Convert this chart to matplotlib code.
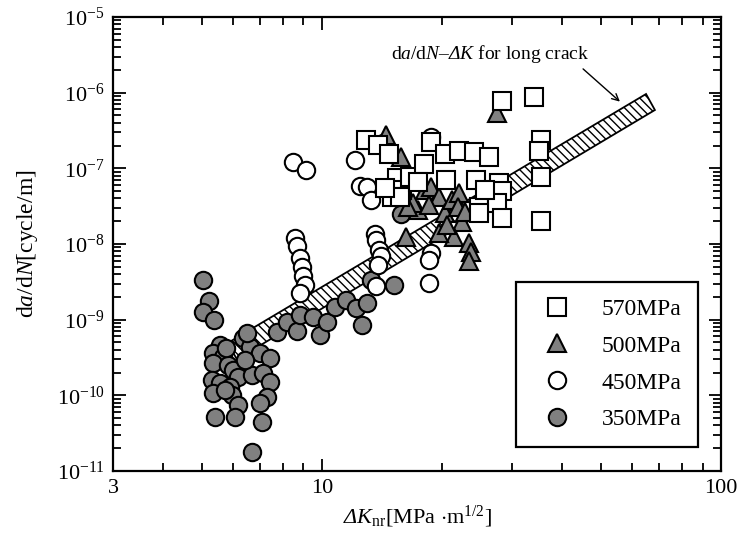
import numpy as np
import matplotlib
matplotlib.use('Agg')
import matplotlib.pyplot as plt
from matplotlib.ticker import FixedLocator, NullFormatter, FuncFormatter
from matplotlib.lines import Line2D

plt.rcParams['font.family'] = 'Liberation Serif'
plt.rcParams['mathtext.fontset'] = 'custom'
plt.rcParams['mathtext.rm'] = 'Liberation Serif'
plt.rcParams['mathtext.it'] = 'Liberation Serif:italic'
plt.rcParams['mathtext.bf'] = 'Liberation Serif:bold'
# italic greek capital (mathit forces it upright)
plt.rcParams['mathtext.sf'] = 'Liberation Serif:italic'
plt.rcParams['hatch.linewidth'] = 1.0

# 570MPa
dk_570 = [28.3, 34.1, 35.5, 35.1, 35.5, 35.5, 12.9, 13.8, 14.7, 15.4, 15.9, 15.0, 16.6, 18.0,
          18.8, 20.3, 22.1, 24.1, 26.3, 20.5, 24.4, 27.8, 28.2, 24.8, 27.4, 28.2, 24.8, 15.7,
          25.7, 17.4, 14.4]
rate_570 = [7.8e-7, 8.8e-7, 2.37e-7, 1.7e-7, 7.7e-8, 2.0e-8, 2.37e-7, 2.03e-7, 1.55e-7, 7.45e-8,
            5.2e-8, 4.2e-8, 7.7e-8, 1.14e-7, 2.23e-7, 1.55e-7, 1.7e-7, 1.64e-7, 1.41e-7, 7.0e-8,
            7.0e-8, 6.4e-8, 5.0e-8, 3.1e-8, 3.5e-8, 2.2e-8, 2.6e-8, 4.2e-8, 5.2e-8, 6.6e-8, 5.5e-8]

# 500MPa
dk_500 = [27.4, 14.5, 15.8, 18.1, 18.8, 19.7, 17.4, 16.3, 20.3, 21.2, 22.1, 22.5, 21.5, 23.4,
          23.7, 23.4, 19.7, 21.9, 22.8, 16.9, 20.6, 18.6, 16.4]
rate_500 = [5.4e-7, 2.76e-7, 1.41e-7, 5.2e-8, 5.7e-8, 4.2e-8, 2.8e-8, 1.24e-8, 2.6e-8, 3.8e-8,
            4.7e-8, 1.95e-8, 1.24e-8, 1.03e-8, 7.8e-9, 6.0e-9, 1.4e-8, 3.1e-8, 2.65e-8, 3.5e-8,
            1.78e-8, 3.3e-8, 3.1e-8]

# 450MPa
dk_450 = [8.45, 9.11, 12.1, 12.5, 12.95, 13.3, 8.55, 8.65, 8.80, 8.90, 8.96, 9.06, 8.80, 13.6,
          13.7, 13.95, 14.1, 13.8, 13.7, 18.8, 18.8, 18.6, 18.6, 14.2]
rate_450 = [1.21e-7, 9.5e-8, 1.29e-7, 5.85e-8, 5.7e-8, 3.8e-8, 1.2e-8, 9.4e-9, 6.5e-9, 5.0e-9,
            3.8e-9, 2.9e-9, 2.25e-9, 1.35e-8, 1.13e-8, 8.3e-9, 6.9e-9, 5.3e-9, 2.8e-9, 2.6e-7,
            7.6e-9, 6.1e-9, 3.05e-9, 2.16e-7]

# 350MPa
dk_350 = [5.04, 5.21, 5.04, 5.37, 5.55, 6.34, 5.33, 5.65, 6.60, 6.99, 7.41, 5.33, 5.81, 5.99,
          6.16, 6.68, 7.11, 7.41, 5.31, 5.55, 5.33, 5.88, 5.95, 7.28, 6.99, 6.16, 5.40, 6.06,
          7.07, 6.68, 5.72, 7.71, 8.17, 8.65, 8.80, 9.49, 9.88, 10.3, 10.8, 11.5, 12.2, 12.6,
          12.95, 13.3, 15.2, 6.49, 6.41, 5.75, 15.8]
rate_350 = [3.34e-9, 1.77e-9, 1.26e-9, 9.9e-10, 4.6e-10, 5.7e-10, 3.6e-10, 3.2e-10, 4.35e-10,
            3.6e-10, 3.1e-10, 2.7e-10, 2.5e-10, 2.16e-10, 1.75e-10, 1.86e-10, 2.0e-10, 1.5e-10,
            1.6e-10, 1.46e-10, 1.07e-10, 1.29e-10, 1.01e-10, 9.5e-11, 7.9e-11, 7.4e-11, 5.2e-11,
            5.2e-11, 4.45e-11, 1.78e-11, 1.18e-10, 6.9e-10, 9.3e-10, 7.1e-10, 1.15e-9, 1.08e-9,
            6.3e-10, 9.3e-10, 1.47e-9, 1.82e-9, 1.43e-9, 8.5e-10, 1.66e-9, 3.3e-9, 2.9e-9,
            6.7e-10, 2.9e-10, 4.2e-10, 2.5e-8]

# long crack band (corners)
band_dk = [5.81, 64.9, 68.3, 6.13]
band_rate = [4.9e-10, 9.6e-7, 5.9e-7, 3.0e-10]

x_major = [3, 10, 100]
x_minor = [4, 5, 6, 7, 8, 9, 20, 30, 40, 50, 60, 70, 80, 90]
y_exp = list(range(-11, -4))

gray = '#808080'
ms = 12.5
mew = 1.5

fig = plt.figure(figsize=(7.42, 5.40), dpi=100)
ax = fig.add_axes([0.1523, 0.1278, 0.8194, 0.8407])
ax.set_xscale('log')
ax.set_yscale('log')

ax.fill(band_dk, band_rate, facecolor='white', edgecolor='black', hatch=r'\\\\',
        linewidth=1.3, zorder=1)

ax.plot(dk_350, rate_350, 'o', ms=ms, mfc=gray, mec='black', mew=mew, zorder=2)
ax.plot(dk_450, rate_450, 'o', ms=ms, mfc='white', mec='black', mew=mew, zorder=3)
ax.plot(dk_500, rate_500, '^', ms=ms, mfc=gray, mec='black', mew=mew, zorder=4)
ax.plot(dk_570, rate_570, 's', ms=ms, mfc='white', mec='black', mew=mew, zorder=5)

ax.annotate('', xy=(56.5, 7.2e-7), xytext=(44.6, 2.18e-6),
            arrowprops=dict(arrowstyle='->', color='black', lw=1.0, mutation_scale=12))
ax.text(46.7, 3.2e-6, r'd$\mathit{a}$/d$\mathit{N}$–$\mathsf{Δ}\mathit{K}$ for long crack',
        ha='right', va='center', fontsize=14)

ax.set_xlim(3, 100)
ax.set_ylim(1e-11, 1e-5)

ax.xaxis.set_major_locator(FixedLocator(x_major))
ax.xaxis.set_major_formatter(FuncFormatter(lambda v, p: '%d' % round(v)))
ax.xaxis.set_minor_locator(FixedLocator(x_minor))
ax.xaxis.set_minor_formatter(NullFormatter())

y_major = [10.0 ** e for e in y_exp]
y_minor = [m * 10.0 ** e for e in y_exp[:-1] for m in range(2, 10)]
ax.yaxis.set_major_locator(FixedLocator(y_major))
ax.yaxis.set_minor_locator(FixedLocator(y_minor))
ax.yaxis.set_minor_formatter(NullFormatter())
ax.yaxis.set_major_formatter(FuncFormatter(
    lambda v, p: r'10$^{\mathregular{%d}}$' % round(np.log10(v))))

ax.tick_params(which='both', direction='in', top=True, right=True, width=1.3,
               labelsize=16)
ax.tick_params(which='major', length=9, pad=6)
ax.tick_params(which='minor', length=5.5)
for s in ax.spines.values():
    s.set_linewidth(1.6)

ax.set_xlabel(r'$\mathsf{Δ}\mathit{K}_{\mathrm{nr}}$[MPa $\cdot$m$^{1/2}$]', fontsize=16, labelpad=4)
ax.set_ylabel(r'd$\mathit{a}$/d$\mathit{N}$[cycle/m]', fontsize=17, labelpad=12)

handles = [
    Line2D([], [], ls='none', marker='s', ms=ms, mfc='white', mec='black', mew=mew),
    Line2D([], [], ls='none', marker='^', ms=ms, mfc=gray, mec='black', mew=mew),
    Line2D([], [], ls='none', marker='o', ms=ms, mfc='white', mec='black', mew=mew),
    Line2D([], [], ls='none', marker='o', ms=ms, mfc=gray, mec='black', mew=mew),
]
labels = ['570MPa', '500MPa', '450MPa', '350MPa']
leg = ax.legend(handles, labels, loc='lower right', bbox_to_anchor=(0.962, 0.053),
                fontsize=17, frameon=True, fancybox=False, framealpha=1,
                edgecolor='black', borderpad=0.7, labelspacing=0.65,
                handlelength=2.0, handletextpad=0.9, borderaxespad=0)
leg.get_frame().set_linewidth(1.6)
leg.set_zorder(10)

fig.savefig('out.png', dpi=100)
